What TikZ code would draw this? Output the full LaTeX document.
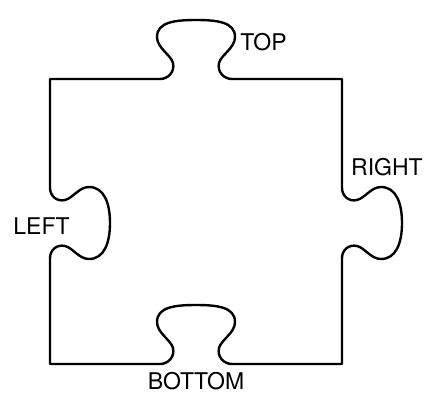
\documentclass[tikz,border=0pt]{standalone}
\usepackage{fontspec}
\setmainfont{TeX Gyre Heros}
\begin{document}
\begin{tikzpicture}[x=1pt,y=-1pt,
  outline/.style={draw=black,line width=2.4pt,line join=round},
  lbl/.style={font=\fontsize{23}{27}\selectfont,inner sep=0pt,text=black}]
\useasboundingbox[fill=white] (0,0) rectangle (435,405);
\draw[outline] (50,79) -- (160,79)
  .. controls (168,79) and (175,72) .. (173,63)
  .. controls (171,55) and (157,48) .. (157,37)
  .. controls (157,22) and (175,20) .. (196,20)
  .. controls (217,20) and (235,22) .. (235,37)
  .. controls (235,48) and (221,55) .. (219,63)
  .. controls (217,72) and (224,79) .. (232,79)
  -- (342,79) -- (342,188)
  .. controls (342,196) and (349,202) .. (357,200)
  .. controls (365,198) and (371,187) .. (381,187)
  .. controls (396,187) and (402,203) .. (402,223)
  .. controls (402,243) and (396,259) .. (381,259)
  .. controls (371,259) and (365,248) .. (357,246)
  .. controls (349,244) and (342,250) .. (342,258)
  -- (342,364) -- (232,364)
  .. controls (224,364) and (217,357) .. (219,348)
  .. controls (221,340) and (235,333) .. (235,322)
  .. controls (235,307) and (217,305) .. (196,305)
  .. controls (175,305) and (157,307) .. (157,322)
  .. controls (157,333) and (171,340) .. (173,348)
  .. controls (175,357) and (168,364) .. (160,364)
  -- (50,364) -- (50,258)
  .. controls (50,250) and (57,244) .. (65,246)
  .. controls (73,248) and (79,259) .. (89,259)
  .. controls (104,259) and (110,243) .. (110,223)
  .. controls (110,203) and (104,187) .. (89,187)
  .. controls (79,187) and (73,198) .. (65,200)
  .. controls (57,202) and (50,196) .. (50,188)
  -- cycle;
\node[lbl] (top) at (263.5,42) {TOP};
\node[lbl] (right) at (387,167) {RIGHT};
\node[lbl] (left) at (41.5,226.5) {LEFT};
\node[lbl] (bottom) at (196,381) {BOTTOM};
\end{tikzpicture}
\end{document}
